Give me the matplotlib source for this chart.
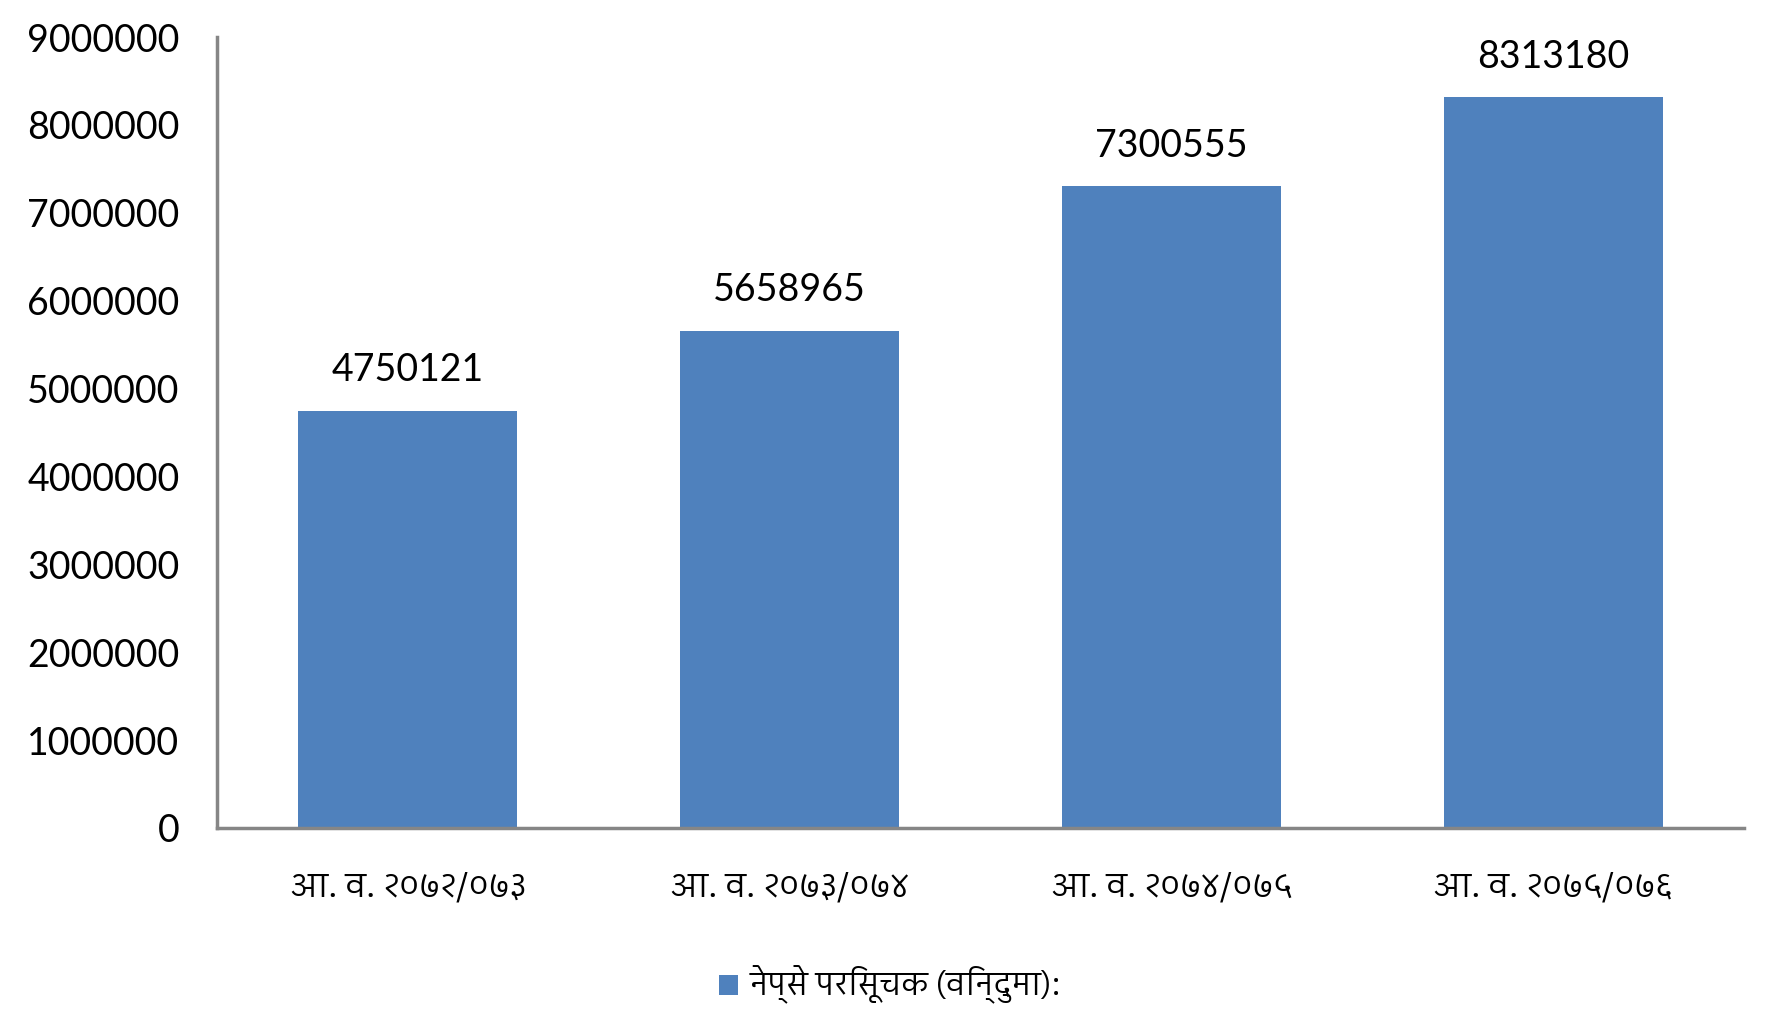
import matplotlib
matplotlib.use("Agg")
import matplotlib.pyplot as plt
from matplotlib import font_manager
from matplotlib.ft2font import FT2Font
from matplotlib.patches import Patch

categories = ["आ. व. २०७२/०७३", "आ. व. २०७३/०७४", "आ. व. २०७४/०७५", "आ. व. २०७५/०७६"]
values = [4750121, 5658965, 7300555, 8313180]
series_name = "नेप्से परिसूचक (विन्दुमा):"
yticks = [0, 1000000, 2000000, 3000000, 4000000, 5000000, 6000000, 7000000, 8000000, 9000000]

BAR_COLOR = "#4F81BD"
AXIS_COLOR = "#868686"

# find fonts with Devanagari glyphs, prefer proportional sans fonts
cands = []
for fe in font_manager.fontManager.ttflist:
    try:
        cm = FT2Font(fe.fname).get_charmap()
    except Exception:
        continue
    if 0x0906 in cm and 0x0968 in cm:
        n = fe.name.lower()
        score = 0
        if "mono" in n or "code" in n:
            score += 10
        if "devanagari" in n:
            score -= 3
        if "sans" in n:
            score -= 1
        if fe.weight not in (400, "normal", "regular"):
            score += 1
        cands.append((score, fe.name))
cands.sort()
deva_font = cands[0][1] if cands else None

base = "Lato"
plt.rcParams["font.family"] = [base, "DejaVu Sans"]
deva_family = ([deva_font] if deva_font else []) + [base, "DejaVu Sans"]

fig = plt.figure(figsize=(17.7, 10.24), dpi=100)
ax = fig.add_axes([217 / 1770, 1 - 828 / 1024, (1744 - 217) / 1770, (828 - 37) / 1024])

x = list(range(len(categories)))
bars = ax.bar(x, values, width=0.574, color=BAR_COLOR, zorder=2)

ax.set_xlim(-0.5, len(categories) - 0.5)
ax.set_ylim(0, 9000000)
ax.set_yticks(yticks)
ax.set_yticklabels([str(v) for v in yticks], fontsize=27)
ax.tick_params(axis="y", length=0, pad=27)
ax.set_xticks(x)
ax.set_xticklabels(categories, family=deva_family, fontsize=24)
ax.tick_params(axis="x", length=0, pad=31)

for s in ["top", "right"]:
    ax.spines[s].set_visible(False)
for s in ["left", "bottom"]:
    ax.spines[s].set_color(AXIS_COLOR)
    ax.spines[s].set_linewidth(2.5)

for b, v in zip(bars, values):
    ax.annotate(str(v), (b.get_x() + b.get_width() / 2, v), xytext=(0, 16),
                textcoords="offset points", ha="center", va="bottom", fontsize=27)

handle = Patch(facecolor=BAR_COLOR, edgecolor="none")
leg = fig.legend([handle], [series_name], loc="center", bbox_to_anchor=(0.503, 0.038),
                 frameon=False, prop={"family": deva_family, "size": 22.5},
                 handlelength=0.6, handleheight=0.6, handletextpad=0.4)

fig.savefig("out.png", dpi=100)
